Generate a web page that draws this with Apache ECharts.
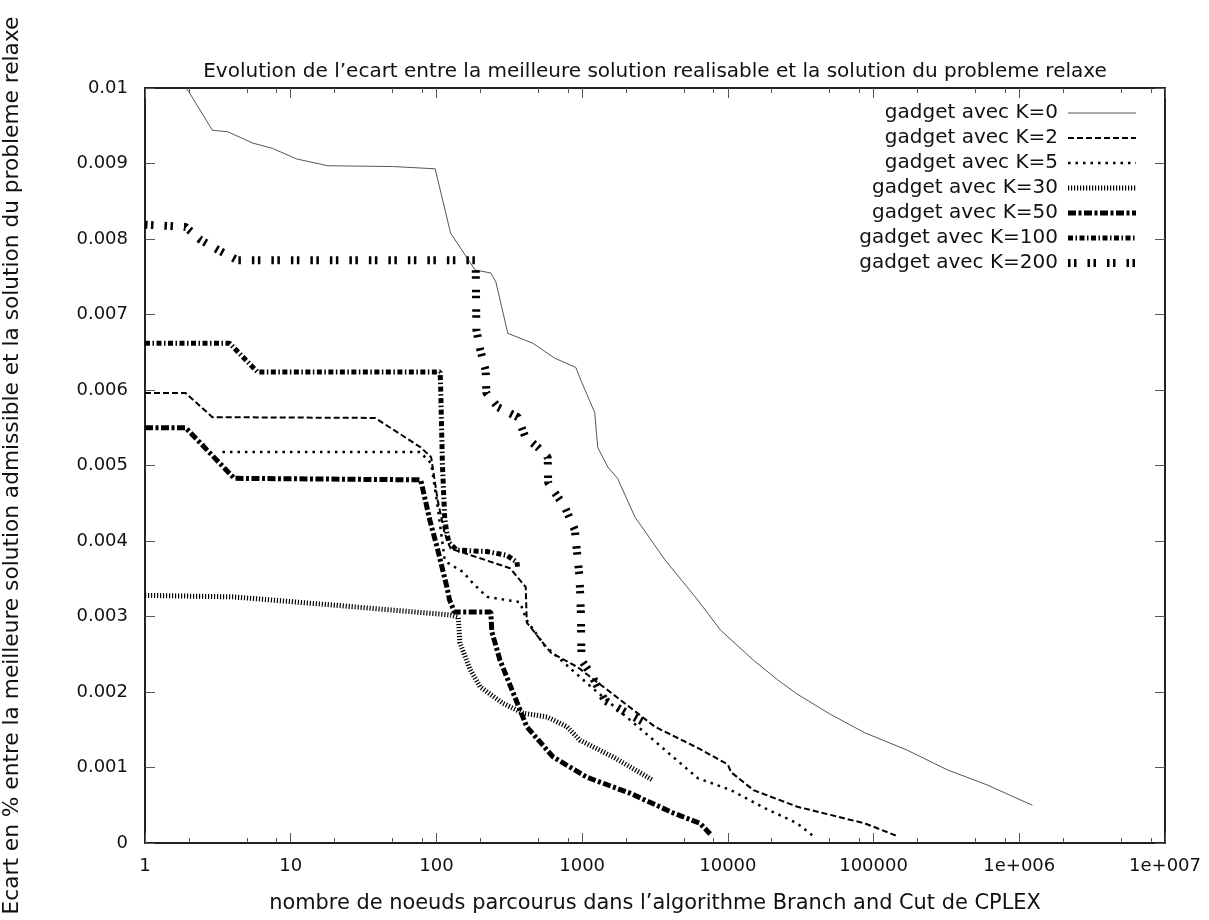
<!DOCTYPE html>
<html>
<head>
<meta charset="utf-8">
<script src="https://cdn.jsdelivr.net/npm/echarts@6/dist/echarts.min.js"></script>
<style>
html, body { margin: 0; padding: 0; background: #fff; }
#chart { width: 1209px; height: 920px; }
</style>
</head>
<body>
<div id="chart"></div>
<script>
// data: [nodes, gap]
var seriesNames = ['gadget avec K=0', 'gadget avec K=2', 'gadget avec K=5', 'gadget avec K=30',
    'gadget avec K=50', 'gadget avec K=100', 'gadget avec K=200'];

var k0 = [[1, 0.0106], [2, 0.00995], [2.9, 0.00944], [3.7, 0.00942], [5.5, 0.00927], [7.5, 0.0092],
    [11, 0.00906], [18, 0.00897], [50, 0.00896], [98, 0.00893], [125, 0.00808], [184, 0.00759],
    [236, 0.00755], [256, 0.00743], [309, 0.00675], [458, 0.00662], [650, 0.00642], [904, 0.0063],
    [980, 0.00613], [1220, 0.0057], [1280, 0.00524], [1500, 0.00498], [1750, 0.00483], [2300, 0.00432],
    [3700, 0.00375], [6200, 0.00322], [8900, 0.00282], [15000, 0.00242], [22000, 0.00216],
    [30000, 0.00197], [50000, 0.00171], [87000, 0.00146], [170000, 0.00123], [320000, 0.00097],
    [600000, 0.00077], [1230000, 0.0005]];

var k2 = [[1, 0.00596], [1.9, 0.00596], [2.9, 0.00564], [38, 0.00563], [78, 0.00524], [92, 0.00511],
    [102, 0.00454], [114, 0.0041], [125, 0.0039], [320, 0.00364], [410, 0.00339], [417, 0.00292],
    [610, 0.00252], [930, 0.00233], [1580, 0.00199], [3160, 0.00154], [6200, 0.00126], [10000, 0.00104],
    [10500, 0.00094], [15000, 0.0007], [30000, 0.00048], [87000, 0.00026], [142000, 0.0001]];

var k5 = [[3.4, 0.00518], [77, 0.00518], [92, 0.00503], [102, 0.00445], [114, 0.00375], [120, 0.00371],
    [152, 0.00359], [178, 0.00344], [222, 0.00326], [374, 0.00319], [417, 0.00295], [550, 0.00262],
    [1150, 0.00207], [2700, 0.00146], [6200, 0.00086], [10500, 0.0007], [18000, 0.00046],
    [30000, 0.00026], [38000, 0.0001]];

var k30 = [[1, 0.00328], [4, 0.00326], [20, 0.00315], [125, 0.00302], [141, 0.00299], [145, 0.00265],
    [170, 0.0023], [199, 0.00207], [286, 0.00185], [393, 0.00172], [574, 0.00167], [787, 0.00154],
    [968, 0.00136], [1630, 0.00114], [3070, 0.00083]];

var k50 = [[1, 0.0055], [1.9, 0.0055], [4.1, 0.00483], [78, 0.00481], [90, 0.00428], [101, 0.00392],
    [109, 0.00366], [118, 0.00339], [123, 0.00322], [133, 0.00306], [236, 0.00306], [240, 0.0028],
    [273, 0.00242], [336, 0.00199], [417, 0.00154], [631, 0.00114], [1080, 0.00087], [2130, 0.00066],
    [4200, 0.0004], [6440, 0.00026], [7560, 0.00012]];

var k100 = [[1, 0.00662], [3.8, 0.00662], [5.9, 0.00624], [106, 0.00624], [107, 0.006], [110, 0.005],
    [114, 0.0043], [118, 0.0041], [122, 0.00398], [138, 0.00388], [222, 0.00386], [304, 0.00381],
    [357, 0.00372], [360, 0.00366]];

var k200 = [[1, 0.00819], [1.9, 0.00816], [2.4, 0.00799], [3.2, 0.00785], [4.3, 0.00772], [186, 0.00772],
    [188, 0.0068], [200, 0.00653], [218, 0.00626], [220, 0.00596], [265, 0.00577], [362, 0.00564],
    [407, 0.00538], [497, 0.00524], [580, 0.00511], [585, 0.00477], [650, 0.00464], [760, 0.00445],
    [890, 0.00415], [960, 0.00352], [980, 0.00305], [990, 0.00242], [1140, 0.00225], [1430, 0.00189],
    [2030, 0.00172], [2700, 0.00159]];

var allSeries = [k0, k2, k5, k30, k50, k100, k200];

var xTickLabels = ['1', '10', '100', '1000', '10000', '100000', '1e+006', '1e+007'];
var xMinorTicks = [2, 5, 8, 20, 50, 80, 200, 500, 800, 2000, 5000, 8000, 20000, 50000, 80000,
    200000, 500000, 800000, 2000000, 5000000, 8000000];

var titleText = 'Evolution de l\u2019ecart entre la meilleure solution realisable et la solution du probleme relaxe';
var xName = 'nombre de noeuds parcourus dans l\u2019algorithme Branch and Cut de CPLEX';
var yName = 'Ecart en % entre la meilleure solution admissible et la solution du probleme relaxe';

// gnuplot-like line types
var lineTypes = [
    { color: '#555', width: 1, type: 'solid' },
    { color: '#000', width: 2, type: [6, 3] },
    { color: '#000', width: 2.5, type: [2.5, 5] },
    { color: '#000', width: 5, type: [1.2, 1.8] },
    { color: '#000', width: 5, type: [8, 2.5, 3, 2.5] },
    { color: '#000', width: 5, type: [5, 2.5, 1.5, 2.5] },
    { color: '#000', width: 8, type: [2.5, 3.5, 2.5, 11] }
];

var font = 'DejaVu Sans';
var tickColor = '#555';

function xLabel(v) {
    var p = Math.round(Math.log(v) / Math.LN10);
    return xTickLabels[p] || '';
}
function yLabel(v) {
    return String(Math.round(v * 1000) / 1000);
}

function xAxisDef(pos, minor) {
    return {
        type: 'log', logBase: 10, min: 1, max: 10000000, position: pos,
        axisLine: { show: false },
        splitLine: { show: false },
        axisTick: minor
            ? { show: true, inside: true, length: 5, customValues: xMinorTicks, lineStyle: { color: tickColor } }
            : { show: true, inside: true, length: 10, lineStyle: { color: tickColor } },
        axisLabel: { show: false }
    };
}

var chart = echarts.init(document.getElementById('chart'), null, { renderer: 'canvas' });

var xMain = xAxisDef('bottom', false);
xMain.axisLabel = { show: true, formatter: xLabel, margin: 14, fontSize: 18, fontFamily: font, color: '#111' };
xMain.name = xName;
xMain.nameLocation = 'middle';
xMain.nameGap = 50;
xMain.nameTextStyle = { fontSize: 20.9, fontFamily: font, color: '#111' };

var series = [];
var legendData = [];
for (var i = 0; i < allSeries.length; i++) {
    var ls = lineTypes[i];
    series.push({
        name: seriesNames[i],
        type: 'line',
        data: allSeries[i],
        xAxisIndex: 0,
        yAxisIndex: 0,
        symbol: 'none',
        showSymbol: false,
        clip: true,
        animation: false,
        lineStyle: { color: ls.color, width: ls.width, type: ls.type, cap: 'butt' },
        itemStyle: { color: ls.color }
    });
    legendData.push({
        name: seriesNames[i],
        itemStyle: { opacity: 0, borderWidth: 0 },
        lineStyle: { color: ls.color, width: ls.width, type: ls.type, opacity: 1 }
    });
}

var option = {
    backgroundColor: '#fff',
    animation: false,
    title: {
        text: titleText,
        left: 655, top: 62, textAlign: 'center', padding: 0,
        textStyle: { fontSize: 20, fontWeight: 'normal', fontFamily: font, color: '#111' }
    },
    legend: {
        orient: 'vertical',
        right: 69, top: 103, padding: 0,
        align: 'right',
        itemWidth: 68, itemHeight: 14, itemGap: 5,
        selectedMode: false,
        data: legendData,
        textStyle: { fontSize: 20, fontFamily: font, color: '#111', lineHeight: 20, padding: [0, 5, 0, 0] }
    },
    grid: {
        left: 145, right: 44, top: 88, bottom: 77,
        show: true, borderColor: '#222', borderWidth: 2,
        outerBoundsMode: 'none', containLabel: false
    },
    xAxis: [xMain, xAxisDef('bottom', true), xAxisDef('top', false), xAxisDef('top', true)],
    yAxis: [
        {
            type: 'value', min: 0, max: 0.01, interval: 0.001, position: 'left',
            axisLine: { show: false }, splitLine: { show: false },
            axisTick: { show: true, inside: true, length: 10, lineStyle: { color: tickColor } },
            axisLabel: { formatter: yLabel, margin: 17, fontSize: 18, fontFamily: font, color: '#111' },
            name: yName, nameLocation: 'middle', nameGap: 122,
            nameTextStyle: { fontSize: 21.7, fontFamily: font, color: '#111' }
        },
        {
            type: 'value', min: 0, max: 0.01, interval: 0.001, position: 'right',
            axisLine: { show: false }, splitLine: { show: false },
            axisTick: { show: true, inside: true, length: 10, lineStyle: { color: tickColor } },
            axisLabel: { show: false }
        }
    ],
    series: series
};

chart.setOption(option);
</script>
</body>
</html>
